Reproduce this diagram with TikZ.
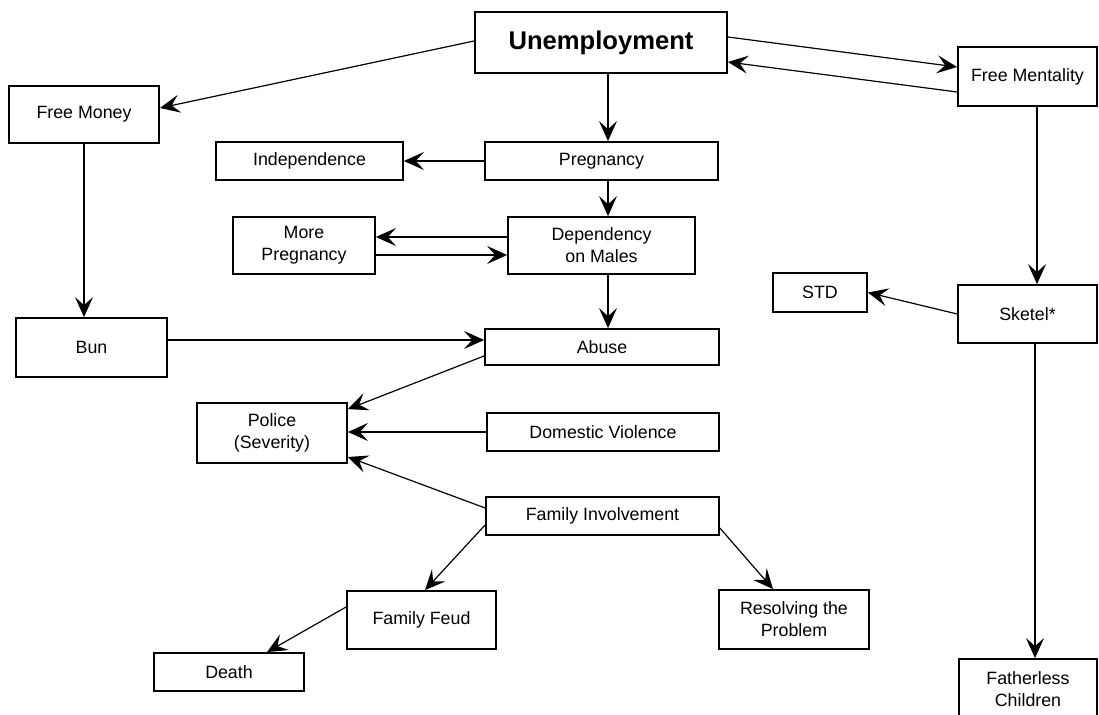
\documentclass[tikz,border=0pt]{standalone}
\usepackage{fontspec}
\setmainfont{Liberation Sans}
\usepackage{tikz}
\usetikzlibrary{arrows.meta}
\usetikzlibrary{calc}
\tikzstyle{block} = [draw, line width=0.9pt, align=center, inner sep=0pt,
  font=\fontsize{8.9}{11}\selectfont]
\tikzstyle{line} = [draw, line width=0.6pt, -{Stealth[length=10pt,width=9pt,inset=4pt]}]

\begin{document}
\begin{tikzpicture}[x=0.5pt, y=-0.5pt]
    \useasboundingbox (0,0) rectangle (1099,715);
    \clip (0,0) rectangle (1099,715);
    %% Centre column
    \node [block, minimum width=126pt, minimum height=30.5pt, font=\fontsize{12.8}{15}\selectfont\bfseries] (unemp) at (601,42.5) {Unemployment};
    \node [block, minimum width=116.5pt, minimum height=19pt] (preg) at (601.5,161) {Pregnancy};
    \node [block, minimum width=93.5pt, minimum height=28.5pt] (depend) at (601.5,245.5) {Dependency\\on Males};
    \node [block, minimum width=117pt, minimum height=18pt] (abuse) at (602,347) {Abuse};
    \node [block, minimum width=116pt, minimum height=19pt] (domvio) at (603,432) {Domestic Violence};
    \node [block, minimum width=116.5pt, minimum height=19pt] (faminv) at (602.5,516) {Family Involvement};
    %% Left side
    \node [block, minimum width=75pt, minimum height=28.5pt] (money) at (84,114.5) {Free Money};
    \node [block, minimum width=93.5pt, minimum height=19pt] (indep) at (309.5,161) {Independence};
    \node [block, minimum width=71pt, minimum height=28.5pt] (morepreg) at (304,245.5) {More\\Pregnancy};
    \node [block, minimum width=75.5pt, minimum height=29.5pt] (bun) at (91.5,347.5) {Bun};
    \node [block, minimum width=75pt, minimum height=30pt] (police) at (272,433) {Police\\(Severity)};
    \node [block, minimum width=74.5pt, minimum height=29pt] (feud) at (421.5,620) {Family Feud};
    \node [block, minimum width=75pt, minimum height=19pt] (death) at (229,672) {Death};
    \node [block, minimum width=75pt, minimum height=29.5pt] (resolve) at (794,619.5) {Resolving the\\Problem};
    %% Right side
    \node [block, minimum width=69.5pt, minimum height=29.5pt] (mental) at (1027.5,76.5) {Free Mentality};
    \node [block, minimum width=47pt, minimum height=19.5pt] (std) at (820,292.5) {STD};
    \node [block, minimum width=69.5pt, minimum height=29pt] (sketel) at (1027.5,314) {Sketel*};
    \node [block, minimum width=69pt, minimum height=30pt] (father) at (1028,689) {Fatherless\\Children};
    %% Flows
    \path [line] ([yshift=0.75pt]unemp.west) -- ([yshift=3.25pt]money.east);
    \path [line] ([yshift=2.75pt]unemp.east) -- ([yshift=4.75pt]mental.west);
    \path [line] ([yshift=-7.75pt]mental.west) -- ([yshift=-9.75pt]unemp.east);
    \path [line] ([xshift=3.5pt]unemp.south) -- ([xshift=3.25pt]preg.north);
    \path [line] (preg.west) -- (indep.east);
    \path [line] ([xshift=3.25pt]preg.south) -- ([xshift=3.25pt]depend.north);
    \path [line] ([yshift=4.25pt]depend.west) -- ([yshift=4.25pt]morepreg.east);
    \path [line] ([yshift=-4.75pt]morepreg.east) -- ([yshift=-4.75pt]depend.west);
    \path [line] ([xshift=3.25pt]depend.south) -- ([xshift=3pt]abuse.north);
    \path [line] (money.south) -- (money.south |- bun.north);
    \path [line] ([yshift=3.75pt]bun.east) -- ([yshift=3.5pt]abuse.west);
    \path [line] ([yshift=-4.5pt]abuse.west) -- ([yshift=-3.5pt]police.north east);
    \path [line] (domvio.west) -- (domvio.west -| police.east);
    \path [line] ([yshift=4pt]faminv.west) -- ([yshift=-12pt]police.east);
    \path [line] ([yshift=-4.5pt]faminv.west) -- ([xshift=1.75pt]feud.north);
    \path [line] ([yshift=6.5pt]feud.west) -- ([xshift=19pt]death.north);
    \path [line] ([yshift=-6pt]faminv.east) -- ([xshift=-10.5pt]resolve.north);
    \path [line] ([xshift=4.75pt]mental.south) -- ([xshift=4.75pt]sketel.north);
    \path [line] (sketel.west) -- (std.east);
    \path [line] ([xshift=3.75pt]sketel.south) -- ([xshift=3.5pt]father.north);
\end{tikzpicture}
\end{document}
